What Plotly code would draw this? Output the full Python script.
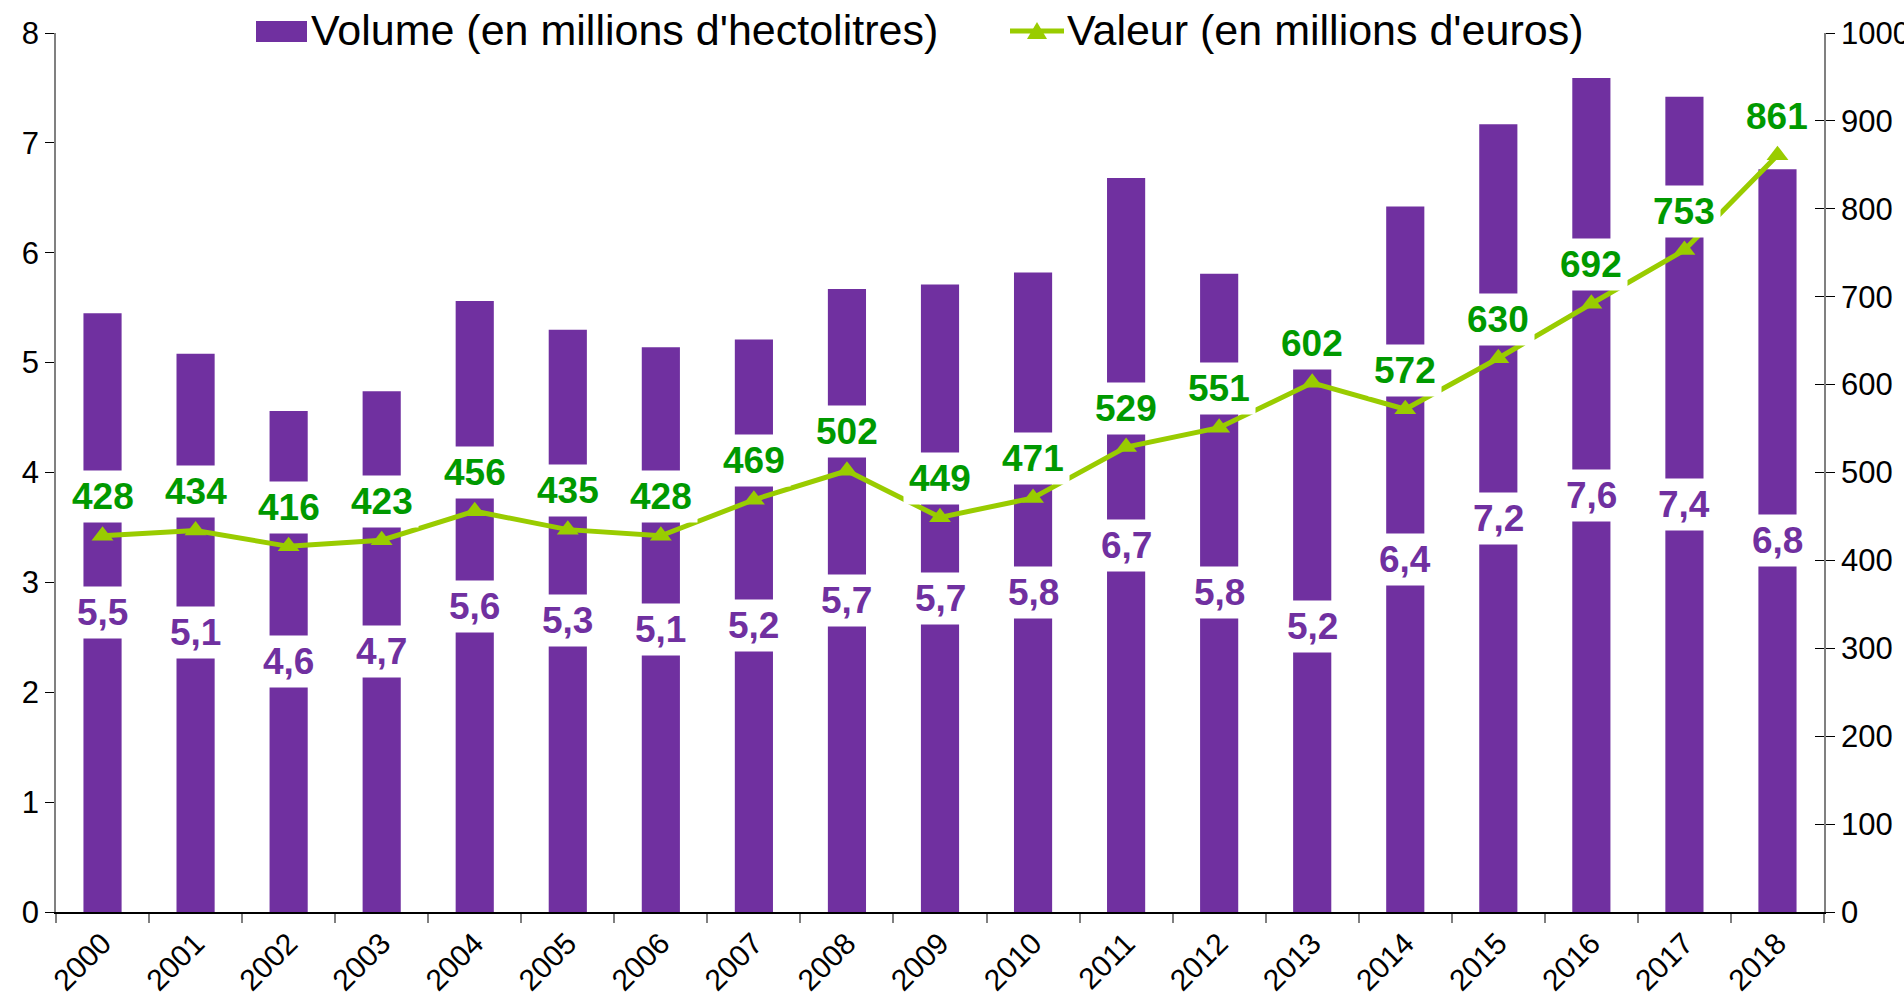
import plotly.graph_objects as go

# ---------------- data ----------------
years = ["2000", "2001", "2002", "2003", "2004", "2005", "2006", "2007", "2008", "2009",
         "2010", "2011", "2012", "2013", "2014", "2015", "2016", "2017", "2018"]
volume = [5.45, 5.08, 4.56, 4.74, 5.56, 5.30, 5.14, 5.21, 5.67, 5.71,
          5.82, 6.68, 5.81, 5.20, 6.42, 7.17, 7.59, 7.42, 6.76]
volume_labels = ["5,5", "5,1", "4,6", "4,7", "5,6", "5,3", "5,1", "5,2", "5,7", "5,7",
                 "5,8", "6,7", "5,8", "5,2", "6,4", "7,2", "7,6", "7,4", "6,8"]
valeur = [428, 434, 416, 423, 456, 435, 428, 469, 502, 449,
          471, 529, 551, 602, 572, 630, 692, 753, 861]
vol_ticks = list(range(0, 9))
val_ticks = list(range(0, 1001, 100))

name_volume = "Volume (en millions d'hectolitres)"
name_valeur = "Valeur (en millions d'euros)"

# ---------------- styles ----------------
PURPLE = "#7030A0"
LINE = "#99CC00"
GREEN = "#009900"
FONT = "Arial, Liberation Sans, sans-serif"

W, H = 1904, 1001
ML, MR, MT, MB = 56, 80, 33, 89
PW, PH = W - ML - MR, H - MT - MB


def px_x(px):
    return (px - ML) / PW


def px_y(py):
    return (H - MB - py) / PH


fig = go.Figure()
fig.add_trace(go.Bar(x=years, y=volume, name=name_volume, marker=dict(color=PURPLE, line=dict(width=0)),
                     yaxis="y", showlegend=False))
fig.add_trace(go.Scatter(x=years, y=valeur, name=name_valeur, yaxis="y2", mode="lines+markers",
                         line=dict(color=LINE, width=5),
                         marker=dict(symbol="triangle-up", size=19, color=LINE),
                         showlegend=False, cliponaxis=False))
# invisible trace carrying the inner half of the right-axis ticks
fig.add_trace(go.Scatter(x=years, y=valeur, yaxis="y3", mode="markers",
                         marker=dict(opacity=0), showlegend=False, hoverinfo="skip"))

annotations = []
# category positions (index on the category axis)
for i, (v, lab) in enumerate(zip(volume, volume_labels)):
    annotations.append(dict(x=i, y=v / 2, xref="x", yref="y", text=lab, showarrow=False,
                            font=dict(family=FONT, size=37, color=PURPLE, weight="bold"),
                            bgcolor="white", borderpad=5, xanchor="center", yanchor="middle"))
for i, v in enumerate(valeur):
    annotations.append(dict(x=i, y=v, xref="x", yref="y2", text=str(v), showarrow=False,
                            font=dict(family=FONT, size=37, color=GREEN, weight="bold"),
                            bgcolor="white", borderpad=5, xanchor="center", yanchor="middle",
                            yshift=39))

# manual legend
annotations.append(dict(x=px_x(309), y=px_y(30), xref="paper", yref="paper", text=name_volume,
                        showarrow=False, xanchor="left", yanchor="middle",
                        font=dict(family=FONT, size=43, color="black")))
annotations.append(dict(x=px_x(1065), y=px_y(30), xref="paper", yref="paper", text=name_valeur,
                        showarrow=False, xanchor="left", yanchor="middle",
                        font=dict(family=FONT, size=43, color="black")))

shapes = [
    dict(type="rect", xref="paper", yref="paper", x0=px_x(256), x1=px_x(307), y0=px_y(42), y1=px_y(21),
         fillcolor=PURPLE, line=dict(width=0)),
    dict(type="line", xref="paper", yref="paper", x0=px_x(1010), x1=px_x(1064), y0=px_y(31), y1=px_y(31),
         line=dict(color=LINE, width=5)),
    dict(type="path", xref="paper", yref="paper",
         path=f"M{px_x(1027)},{px_y(39)} L{px_x(1047)},{px_y(39)} L{px_x(1037)},{px_y(22)} Z",
         fillcolor=LINE, line=dict(width=0)),
]

fig.update_layout(
    width=W, height=H,
    margin=dict(l=ML, r=MR, t=MT, b=MB, autoexpand=False),
    paper_bgcolor="white", plot_bgcolor="white",
    bargap=0.59,
    font=dict(family=FONT, color="black"),
    annotations=annotations, shapes=shapes,
    xaxis=dict(type="category", categoryorder="array", categoryarray=years, range=[-0.5, 18.5],
               showline=True, linecolor="black", linewidth=1.5,
               ticks="outside", tickson="boundaries", ticklen=9, tickcolor="#808080", tickwidth=1.5,
               tickangle=-45, tickfont=dict(size=30), showgrid=False, zeroline=False, automargin=False),
    yaxis=dict(range=[0, 8], tickvals=vol_ticks, showline=True, linecolor="#808080", linewidth=1.5,
               ticks="outside", ticklen=9, tickcolor="black", tickfont=dict(size=31),
               showgrid=False, zeroline=False, automargin=False),
    yaxis2=dict(range=[0, 1000], tickvals=val_ticks, overlaying="y", side="right", anchor="x",
                showline=True, linecolor="#808080", linewidth=1.5,
                ticks="outside", ticklen=9, tickcolor="black", tickfont=dict(size=31),
                showgrid=False, zeroline=False, automargin=False),
    yaxis3=dict(range=[0, 1000], tickvals=val_ticks, overlaying="y", side="right", anchor="x",
                showline=False, ticks="inside", ticklen=9, tickcolor="black", showticklabels=False,
                showgrid=False, zeroline=False, automargin=False),
    showlegend=False,
)

fig.write_html("out.html", config={"displayModeBar": False},
               post_script="document.body.style.margin='0';document.body.style.overflow='hidden';")
